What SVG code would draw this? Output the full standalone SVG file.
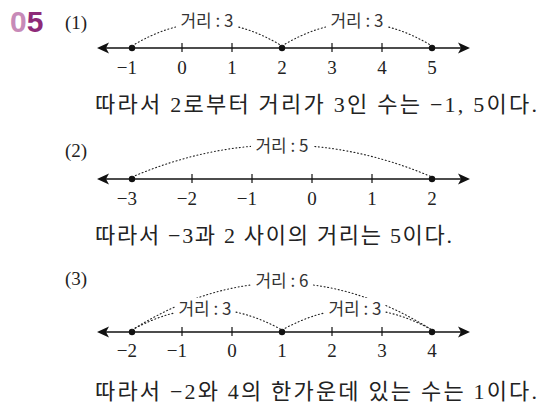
<svg xmlns="http://www.w3.org/2000/svg" width="540" height="408" viewBox="0 0 540 408">
<defs>
<style>
.axis{stroke:#111;stroke-width:1.6;fill:none}
.tick{stroke:#111;stroke-width:1.2}
.arc{stroke:#222;stroke-width:1.1;fill:none;stroke-dasharray:1 2.6;stroke-linecap:round}
.num{font-family:"Liberation Serif","Noto Sans CJK KR",serif;font-size:19px;fill:#222}
.lab{font-family:"Noto Sans CJK KR","Liberation Serif",sans-serif;font-size:17px;fill:#333;text-anchor:middle}
.txt{font-family:"Liberation Serif","Noto Sans CJK KR",serif;font-size:22px;fill:#222}
.dot{fill:#111}
.bg{fill:#fff}
</style>
<path id="ah" d="M0,0 L12,-5.5 L9,0 L12,5.5 Z" fill="#111"/>
</defs>

<g id="header">
<text x="10" y="32" font-family="Liberation Sans,Arial,sans-serif" font-weight="bold" font-size="30"><tspan fill="#c78ab8">0</tspan><tspan fill="#8e2a78">5</tspan></text>
</g>

<!-- (1) -->
<g id="part1">
<text class="num" x="65" y="29">(1)</text>
<g id="axis1">
<line class="axis" x1="100" y1="48" x2="467" y2="48"/>
<use href="#ah" x="97" y="48"/>
<use href="#ah" transform="translate(470,48) scale(-1,1)"/>
<line class="tick" x1="182" y1="43" x2="182" y2="52"/>
<line class="tick" x1="232" y1="43" x2="232" y2="52"/>
<line class="tick" x1="332" y1="43" x2="332" y2="52"/>
<line class="tick" x1="382" y1="43" x2="382" y2="52"/>
<circle class="dot" cx="132" cy="48" r="3.2"/>
<circle class="dot" cx="282" cy="48" r="3.2"/>
<circle class="dot" cx="432" cy="48" r="3.2"/>
<text class="num" x="137" y="74" text-anchor="end">−1</text>
<text class="num" x="182" y="74" text-anchor="middle">0</text>
<text class="num" x="232" y="74" text-anchor="middle">1</text>
<text class="num" x="282" y="74" text-anchor="middle">2</text>
<text class="num" x="332" y="74" text-anchor="middle">3</text>
<text class="num" x="382" y="74" text-anchor="middle">4</text>
<text class="num" x="432" y="74" text-anchor="middle">5</text>
</g>
<g id="connectors1">
<path class="arc" d="M132,46 Q207,0 282,46"/>
<path class="arc" d="M282,46 Q357,0 432,46"/>
</g>
<g id="labels1">
<rect class="bg" x="176" y="10" width="62" height="20"/>
<text class="lab" x="207" y="27">거리 : 3</text>
<rect class="bg" x="326" y="10" width="62" height="20"/>
<text class="lab" x="357" y="27">거리 : 3</text>
</g>
<text class="txt" x="95" y="112" textLength="442" lengthAdjust="spacing">따라서 2로부터 거리가 3인 수는 −1, 5이다.</text>
</g>

<!-- (2) -->
<g id="part2">
<text class="num" x="65" y="157">(2)</text>
<g id="axis2">
<line class="axis" x1="100" y1="179" x2="467" y2="179"/>
<use href="#ah" x="97" y="179"/>
<use href="#ah" transform="translate(470,179) scale(-1,1)"/>
<line class="tick" x1="192" y1="174" x2="192" y2="183"/>
<line class="tick" x1="252" y1="174" x2="252" y2="183"/>
<line class="tick" x1="312" y1="174" x2="312" y2="183"/>
<line class="tick" x1="372" y1="174" x2="372" y2="183"/>
<circle class="dot" cx="132" cy="179" r="3.2"/>
<circle class="dot" cx="432" cy="179" r="3.2"/>
<text class="num" x="137" y="205" text-anchor="end">−3</text>
<text class="num" x="197" y="205" text-anchor="end">−2</text>
<text class="num" x="257" y="205" text-anchor="end">−1</text>
<text class="num" x="312" y="205" text-anchor="middle">0</text>
<text class="num" x="372" y="205" text-anchor="middle">1</text>
<text class="num" x="432" y="205" text-anchor="middle">2</text>
</g>
<g id="connectors2">
<path class="arc" d="M132,177 Q282,113 432,177"/>
</g>
<g id="labels2">
<rect class="bg" x="251" y="135" width="62" height="20"/>
<text class="lab" x="282" y="152">거리 : 5</text>
</g>
<text class="txt" x="95" y="243" textLength="357" lengthAdjust="spacing">따라서 −3과 2 사이의 거리는 5이다.</text>
</g>

<!-- (3) -->
<g id="part3">
<text class="num" x="65" y="285">(3)</text>
<g id="axis3">
<line class="axis" x1="100" y1="332" x2="467" y2="332"/>
<use href="#ah" x="97" y="332"/>
<use href="#ah" transform="translate(470,332) scale(-1,1)"/>
<line class="tick" x1="182" y1="327" x2="182" y2="336"/>
<line class="tick" x1="232" y1="327" x2="232" y2="336"/>
<line class="tick" x1="332" y1="327" x2="332" y2="336"/>
<line class="tick" x1="382" y1="327" x2="382" y2="336"/>
<circle class="dot" cx="132" cy="332" r="3.2"/>
<circle class="dot" cx="282" cy="332" r="3.2"/>
<circle class="dot" cx="432" cy="332" r="3.2"/>
<text class="num" x="137" y="357" text-anchor="end">−2</text>
<text class="num" x="187" y="357" text-anchor="end">−1</text>
<text class="num" x="232" y="357" text-anchor="middle">0</text>
<text class="num" x="282" y="357" text-anchor="middle">1</text>
<text class="num" x="332" y="357" text-anchor="middle">2</text>
<text class="num" x="382" y="357" text-anchor="middle">3</text>
<text class="num" x="432" y="357" text-anchor="middle">4</text>
</g>
<g id="connectors3">
<path class="arc" d="M132,330 Q282,236 432,330"/>
<path class="arc" d="M132,330 Q207,288 282,330"/>
<path class="arc" d="M282,330 Q357,288 432,330"/>
</g>
<g id="labels3">
<rect class="bg" x="251" y="270" width="62" height="20"/>
<text class="lab" x="282" y="287">거리 : 6</text>
<rect class="bg" x="175" y="298" width="60" height="20"/>
<text class="lab" x="205" y="315">거리 : 3</text>
<rect class="bg" x="325" y="298" width="60" height="20"/>
<text class="lab" x="355" y="315">거리 : 3</text>
</g>
<text class="txt" x="95" y="399" textLength="442" lengthAdjust="spacing">따라서 −2와 4의 한가운데 있는 수는 1이다.</text>
</g>
</svg>
